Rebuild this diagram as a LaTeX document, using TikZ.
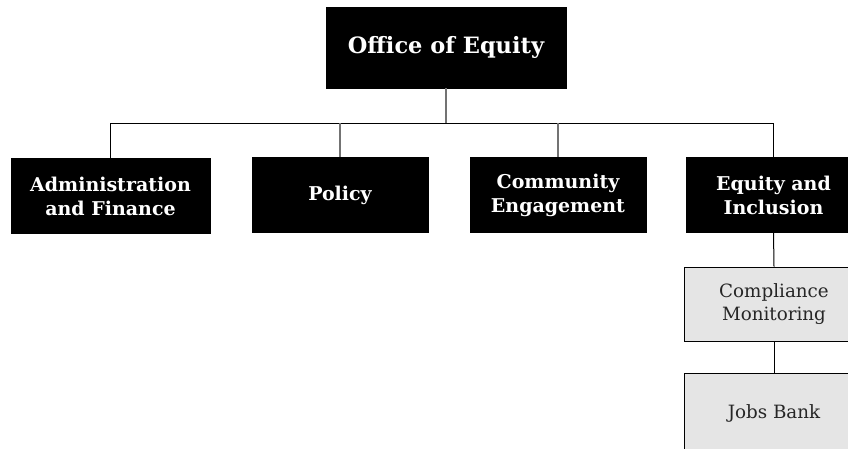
\documentclass[tikz,border=0pt]{standalone}
\usepackage{fontspec}
\setmainfont{DejaVu Serif}
\begin{document}
\begin{tikzpicture}[x=1pt,y=-1pt,
  darkbox/.style={fill=black,draw=black,text=white,font=\fontsize{19}{24}\selectfont\bfseries,align=center,inner sep=0pt,minimum height=75pt},
  lightbox/.style={fill=black!10,draw=black,line width=0.8pt,text=black!85,font=\fontsize{18.3}{23.5}\selectfont,align=center,inner sep=0pt,minimum width=180pt,minimum height=74pt},
  conn/.style={draw=black!55,line width=1.1pt},
  hconn/.style={draw=black,line width=1pt}]
\useasboundingbox (0,0) rectangle (848,448);
\node[darkbox,minimum width=240pt,minimum height=81pt,font=\fontsize{22.5}{26}\selectfont\bfseries] (top) at (446,47.5) {Office of Equity};
\node[darkbox,minimum width=199pt] (adm) at (110.5,196) {Administration\\and Finance};
\node[darkbox,minimum width=176pt] (pol) at (340,195) {Policy};
\node[darkbox,minimum width=176pt] (com) at (558,195) {Community\\Engagement};
\node[darkbox,minimum width=175pt] (eqi) at (773.5,195) {Equity and\\Inclusion};
\node[lightbox] (cmp) at (774,304) {Compliance\\Monitoring};
\node[lightbox,minimum height=80pt] (job) at (774,413) {Jobs Bank};
\coordinate (bus) at (446,123);
\draw[conn] (top.south) -- (bus);
\draw[hconn] (adm.north |- bus) -- (eqi.north |- bus);
\draw[hconn] (adm.north |- bus) -- (adm.north);
\draw[conn] (pol.north |- bus) -- (pol.north);
\draw[conn] (com.north |- bus) -- (com.north);
\draw[hconn] (eqi.north |- bus) -- (eqi.north);
\draw[hconn] (eqi.south) -- (cmp.north);
\draw[hconn] (cmp.south) -- (job.north);
\end{tikzpicture}
\end{document}
